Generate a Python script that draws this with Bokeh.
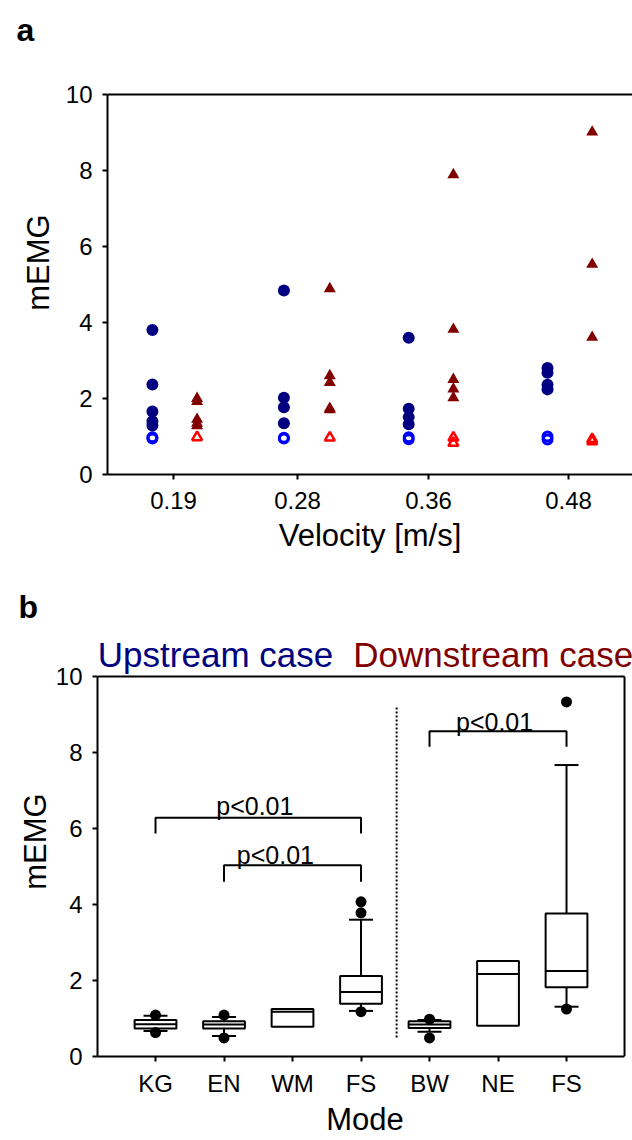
from bokeh.plotting import figure
from bokeh.layouts import column
from bokeh.models import FixedTicker, Label, Title
from bokeh.embed import file_html
from bokeh.resources import INLINE

FONT = "Liberation Sans"

# ---------------- Panel a data ----------------
velocities = ["0.19", "0.28", "0.36", "0.48"]
velocity_pos = [1.0, 2.0, 3.056, 4.185]
up_offset = [-0.17, -0.11, -0.16, -0.17]
down_offset = [0.19, 0.26, 0.20, 0.19]
upstream_active = [[3.80, 2.37, 1.66, 1.40, 1.29],
                   [4.84, 2.02, 1.77, 1.35],
                   [3.60, 1.73, 1.51, 1.32],
                   [2.80, 2.68, 2.36, 2.24]]
upstream_rest = [[0.98, 0.95], [0.97, 0.95], [0.98, 0.93], [1.00, 0.92]]
downstream_active = [[2.00, 1.92, 1.45, 1.35, 1.28],
                     [4.89, 2.60, 2.42, 1.74, 1.70],
                     [7.89, 3.82, 2.50, 2.25, 2.02],
                     [9.01, 5.53, 3.61]]
downstream_rest = [[0.98], [0.97], [0.97, 0.83], [0.93, 0.87]]

# ---------------- Panel b data ----------------
modes = ["KG", "EN", "WM", "FS", "BW", "NE", "FS"]
mode_pos = [1, 2, 3, 4, 5, 6, 7]
q1 = [0.74, 0.74, 0.78, 1.39, 0.75, 0.81, 1.82]
median = [0.85, 0.84, 1.18, 1.70, 0.84, 2.17, 2.25]
q3 = [0.96, 0.93, 1.25, 2.12, 0.93, 2.51, 3.76]
whisker_lo = [0.67, 0.54, None, 1.20, 0.65, None, 1.31]
whisker_hi = [1.07, 1.04, None, 3.60, 0.96, None, 7.67]
outlier_mode = [1, 1, 2, 2, 4, 4, 4, 5, 5, 7, 7]
outlier_val = [1.09, 0.63, 1.09, 0.49, 4.07, 3.78, 1.18, 0.98, 0.49, 9.33, 1.25]
bracket_left = [1, 2, 5]
bracket_right = [4, 4, 7]
bracket_top = [6.28, 5.03, 8.56]
bracket_leg = [5.87, 4.60, 8.15]
bracket_text = ["p<0.01", "p<0.01", "p<0.01"]
bracket_text_x = [2.45, 2.75, 5.95]
bracket_text_y = [6.58, 5.30, 8.80]
divider_x = 4.52
divider_y = [0.5, 9.2]
cases = ["Upstream case", "Downstream case"]
case_x = [1.876, 5.93]
case_y = 10.58
case_colors = ["#000080", "#800000"]

NAVY = "#000080"
DARKRED = "#800000"
Y_TICKS = [0, 2, 4, 6, 8, 10]
Y_MAX = 10
PX_PER_UNIT = 38.0


def flatten(groups, positions, offsets):
    xs, ys = [], []
    for pos, off, vals in zip(positions, offsets, groups):
        for v in vals:
            xs.append(pos + off)
            ys.append(v)
    return xs, ys


def style_axis(ax, label_standoff, title_standoff):
    ax.axis_line_width = 2
    ax.axis_line_color = "black"
    ax.major_tick_line_width = 2
    ax.major_tick_line_color = "black"
    ax.major_tick_out = 5
    ax.major_tick_in = 0
    ax.minor_tick_line_color = None
    ax.major_label_text_font = FONT
    ax.major_label_text_font_size = "24px"
    ax.major_label_text_color = "black"
    ax.major_label_standoff = label_standoff
    ax.axis_label_text_font = FONT
    ax.axis_label_text_font_size = "31px"
    ax.axis_label_text_font_style = "normal"
    ax.axis_label_text_color = "black"
    ax.axis_label_standoff = title_standoff


def panel_title(letter, offset, standoff):
    return Title(text=letter, align="left", offset=offset, standoff=standoff,
                 text_font=FONT, text_font_size="32px", text_font_style="bold",
                 text_color="black")


# ================= Panel a =================
A_TOP = 50
A_BOTTOM = 94
A_H = 568
p1 = figure(width=632, height=A_H, x_range=(0.468, 4.70),
            y_range=(0, (A_H - A_TOP - A_BOTTOM) / PX_PER_UNIT),
            output_backend="svg", toolbar_location=None,
            title=panel_title("a", -91, 6),
            min_border_left=107, min_border_right=0,
            min_border_top=A_TOP, min_border_bottom=A_BOTTOM)
p1.frame_align = False
p1.outline_line_color = None
p1.xgrid.visible = False
p1.ygrid.visible = False
p1.background_fill_color = "white"
p1.border_fill_color = "white"

p1.yaxis.ticker = FixedTicker(ticks=Y_TICKS)
p1.yaxis.bounds = (0, Y_MAX)
p1.yaxis.axis_label = "mEMG"
style_axis(p1.yaxis[0], 10, 7)
p1.xaxis.ticker = FixedTicker(ticks=velocity_pos)
p1.xaxis.major_label_overrides = {p: l for p, l in zip(velocity_pos, velocities)}
p1.xaxis.axis_label = "Velocity [m/s]"
style_axis(p1.xaxis[0], 12, 6)

# top frame line at y = 10
p1.segment(x0=[p1.x_range.start], x1=[p1.x_range.end], y0=[Y_MAX], y1=[Y_MAX],
           line_color="black", line_width=2)

x, y = flatten(upstream_rest, velocity_pos, up_offset)
p1.scatter(x, y, marker="circle", size=9, fill_color=None, line_color="#0000FF", line_width=3)
x, y = flatten(downstream_rest, velocity_pos, down_offset)
p1.scatter(x, y, marker="triangle", size=10, fill_color=None, line_color="#FF0000", line_width=2.5)
x, y = flatten(upstream_active, velocity_pos, up_offset)
p1.scatter(x, y, marker="circle", size=12, fill_color=NAVY, line_color=NAVY, line_width=0)
x, y = flatten(downstream_active, velocity_pos, down_offset)
p1.scatter(x, y, marker="triangle", size=12, fill_color=DARKRED, line_color=DARKRED, line_width=0)

# ================= Panel b =================
B_TOP = 58
B_BOTTOM = 84
B_H = 572
B_X0 = 0.153
B_X1 = 7.847
p2 = figure(width=632, height=B_H, x_range=(B_X0, B_X0 + 535 / 68.5),
            y_range=(0, (B_H - B_TOP - B_BOTTOM) / PX_PER_UNIT),
            output_backend="svg", toolbar_location=None,
            title=panel_title("b", -79, 4),
            min_border_left=97, min_border_right=0,
            min_border_top=B_TOP, min_border_bottom=B_BOTTOM)
p2.frame_align = False
p2.outline_line_color = None
p2.xgrid.visible = False
p2.ygrid.visible = False
p2.background_fill_color = "white"
p2.border_fill_color = "white"

p2.yaxis.ticker = FixedTicker(ticks=Y_TICKS)
p2.yaxis.bounds = (0, Y_MAX)
p2.yaxis.axis_label = "mEMG"
style_axis(p2.yaxis[0], 10, 0)
p2.xaxis.ticker = FixedTicker(ticks=mode_pos)
p2.xaxis.bounds = (B_X0, B_X1)
p2.xaxis.major_label_overrides = {p: l for p, l in zip(mode_pos, modes)}
p2.xaxis.axis_label = "Mode"
style_axis(p2.xaxis[0], 8, 2)

# top and right frame lines
p2.segment(x0=[B_X0, B_X1], x1=[B_X1, B_X1], y0=[Y_MAX, 0], y1=[Y_MAX, Y_MAX],
           line_color="black", line_width=2)

BOX_W = 0.61
CAP_W = 0.35

p2.quad(left=[m - BOX_W / 2 for m in mode_pos], right=[m + BOX_W / 2 for m in mode_pos],
        bottom=q1, top=q3, fill_color=None, line_color="black", line_width=2)
p2.segment(x0=[m - BOX_W / 2 for m in mode_pos], x1=[m + BOX_W / 2 for m in mode_pos],
           y0=median, y1=median, line_color="black", line_width=2)

wx, wy0, wy1, cx0, cx1, cy = [], [], [], [], [], []
for m, lo, hi, a, b in zip(mode_pos, whisker_lo, whisker_hi, q1, q3):
    if lo is not None:
        wx.append(m); wy0.append(lo); wy1.append(a)
        cx0.append(m - CAP_W / 2); cx1.append(m + CAP_W / 2); cy.append(lo)
    if hi is not None:
        wx.append(m); wy0.append(b); wy1.append(hi)
        cx0.append(m - CAP_W / 2); cx1.append(m + CAP_W / 2); cy.append(hi)
p2.segment(x0=wx, x1=wx, y0=wy0, y1=wy1, line_color="black", line_width=2)
p2.segment(x0=cx0, x1=cx1, y0=cy, y1=cy, line_color="black", line_width=2)

p2.scatter(outlier_mode, outlier_val, marker="circle", size=11, fill_color="black",
           line_color="black", line_width=0)

p2.segment(x0=[divider_x], x1=[divider_x], y0=[divider_y[0]], y1=[divider_y[1]],
           line_color="black", line_width=2, line_dash="2 2")

p2.multi_line(xs=[[l, l, r, r] for l, r in zip(bracket_left, bracket_right)],
              ys=[[lg, t, t, lg] for t, lg in zip(bracket_top, bracket_leg)],
              line_color="black", line_width=2)
for tx, ty, tt in zip(bracket_text_x, bracket_text_y, bracket_text):
    p2.add_layout(Label(x=tx, y=ty, text=tt, text_font=FONT, text_font_size="25px",
                        text_align="center", text_baseline="alphabetic", text_color="black"))

for cxp, ct, cc in zip(case_x, cases, case_colors):
    p2.add_layout(Label(x=cxp, y=case_y, text=ct, text_font=FONT, text_font_size="35px",
                        text_align="center", text_baseline="alphabetic", text_color=cc))

layout = column(p1, p2, spacing=0)
open("out.html", "w").write(file_html(layout, INLINE))
